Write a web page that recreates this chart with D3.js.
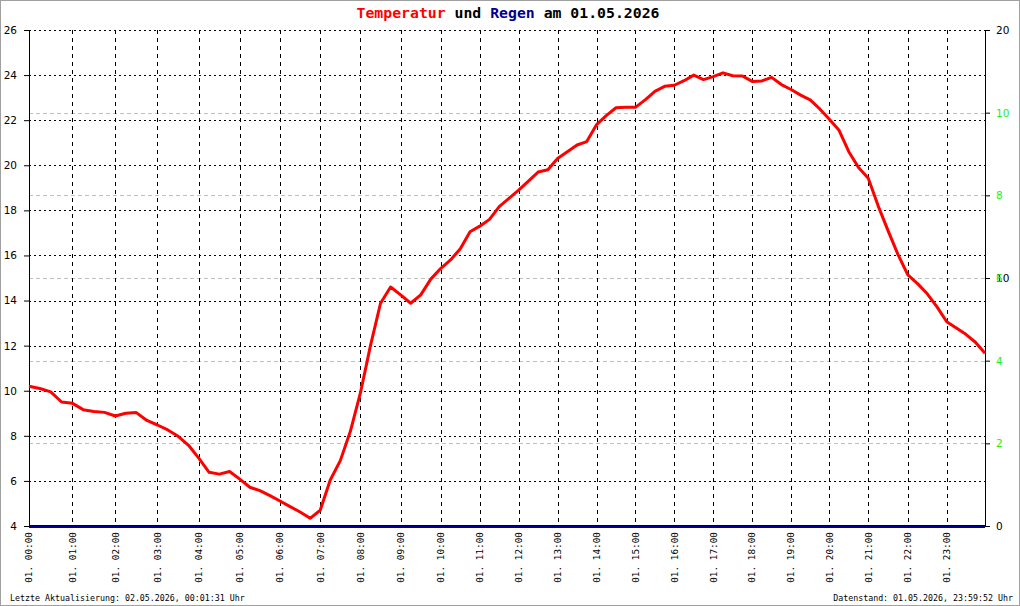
<!DOCTYPE html>
<html>
<head>
<meta charset="utf-8">
<script src="https://cdn.jsdelivr.net/npm/d3@7"></script>
<style>
body { margin: 0; background: #fff; }
svg { display: block; }
</style>
</head>
<body>
<div id="vis"></div>
<script>
// data
var dayLabel = "01.05.2026";
var hourLabels = ["01. 00:00", "01. 01:00", "01. 02:00", "01. 03:00", "01. 04:00", "01. 05:00",
                  "01. 06:00", "01. 07:00", "01. 08:00", "01. 09:00", "01. 10:00", "01. 11:00",
                  "01. 12:00", "01. 13:00", "01. 14:00", "01. 15:00", "01. 16:00", "01. 17:00",
                  "01. 18:00", "01. 19:00", "01. 20:00", "01. 21:00", "01. 22:00", "01. 23:00"];

// logger records per hour (x axis runs by record, not by clock)
var recordsPerHour = [67, 66, 65, 64, 63, 62, 62, 62, 62, 62, 60, 60,
                      60, 60, 60, 60, 60, 60, 60, 59, 60, 61, 60, 59];

// temperature every 15 minutes, 00:00 .. 24:00
var tempQuarterHours = [
  10.2, 10.1, 9.95, 9.5,
  9.44, 9.16, 9.08, 9.04,
  8.88, 9.0, 9.03, 8.68,
  8.48, 8.26, 7.98, 7.58,
  7.0, 6.38, 6.3, 6.42,
  6.08, 5.72, 5.57, 5.35,
  5.11, 4.86, 4.62, 4.34,
  4.7, 6.04, 6.9, 8.2,
  9.9, 12.0, 13.88, 14.6,
  14.25, 13.88, 14.25, 14.95,
  15.43, 15.8, 16.3, 17.05,
  17.3, 17.6, 18.17, 18.53,
  18.9, 19.3, 19.7, 19.8,
  20.3, 20.6, 20.9, 21.05,
  21.8, 22.2, 22.55, 22.57,
  22.57, 22.9, 23.28, 23.5,
  23.55, 23.75, 24.0, 23.8,
  23.93, 24.1, 23.97, 23.96,
  23.72, 23.74, 23.9, 23.58,
  23.36, 23.11, 22.9, 22.5,
  22.04, 21.55, 20.6, 19.9,
  19.42, 18.2, 17.1, 16.05,
  15.14, 14.75, 14.3, 13.72,
  13.06, 12.78, 12.5, 12.15,
  11.66];

// rain per hour boundary (mm), 00:00 .. 24:00
var rainHourly = [0, 0, 0, 0, 0, 0, 0, 0, 0, 0, 0, 0, 0,
                  0, 0, 0, 0, 0, 0, 0, 0, 0, 0, 0, 0];

var tempTicks = [4, 6, 8, 10, 12, 14, 16, 18, 20, 22, 24, 26];
var rainTicks = [0, 10, 20];
var rainTicksFine = [2, 4, 6, 8, 10];

var updatedText = "Letzte Aktualisierung: 02.05.2026, 00:01:31 Uhr";
var dataText = "Datenstand: 01.05.2026, 23:59:52 Uhr";

// svg properties
var svgWidth = 1020;
var svgHeight = 606;

var svg = d3.select('#vis').append('svg')
  .attr('width', svgWidth)
  .attr('height', svgHeight);

// outline
svg.append('rect')
  .attr('x', 0.5).attr('y', 0.5)
  .attr('width', svgWidth - 1).attr('height', svgHeight - 1)
  .attr('fill', 'white')
  .attr('stroke', '#a0a0a0');

var margin = {top: 30, right: 35, bottom: 80, left: 29},
    width = svgWidth - margin.left - margin.right,
    height = svgHeight - margin.top - margin.bottom,
    graph = svg.append('g')
      .attr('transform', 'translate(' + margin.left + ',' + margin.top + ')');

// record index where each hour starts
var hourStart = [0];
recordsPerHour.forEach(function (n, i) { hourStart.push(hourStart[i] + n); });
var totalRecords = hourStart[hourStart.length - 1];

// scales
var xScale = d3.scaleLinear().domain([0, totalRecords]).range([0, width]);
var yTemp = d3.scaleLinear().domain([4, 26]).range([height, 0]);
var yRain = d3.scaleLinear().domain([0, 20]).range([height, 0]);
var yRainFine = d3.scaleLinear().domain([0, 12]).range([height, 0]);

// light gray dashed lines for the fine rain scale
graph.selectAll('.rainGrid')
  .data(rainTicksFine)
  .enter().append('line')
  .attr('class', 'rainGrid')
  .attr('x1', 0).attr('x2', width)
  .attr('y1', function (d) { return Math.round(yRainFine(d)) + 0.5; })
  .attr('y2', function (d) { return Math.round(yRainFine(d)) + 0.5; })
  .attr('stroke', '#c0c0c0')
  .attr('stroke-dasharray', '4,3');

// dotted horizontal grid at temperature ticks
graph.selectAll('.hGrid')
  .data(tempTicks.slice(1))
  .enter().append('line')
  .attr('class', 'hGrid')
  .attr('x1', 0).attr('x2', width)
  .attr('y1', function (d) { return Math.round(yTemp(d)) + 0.5; })
  .attr('y2', function (d) { return Math.round(yTemp(d)) + 0.5; })
  .attr('stroke', 'black')
  .attr('stroke-dasharray', '2,3');

// dashed vertical grid at each hour
graph.selectAll('.vGrid')
  .data(hourStart.slice(1, 24))
  .enter().append('line')
  .attr('class', 'vGrid')
  .attr('x1', function (d) { return Math.round(xScale(d)) + 0.5; })
  .attr('x2', function (d) { return Math.round(xScale(d)) + 0.5; })
  .attr('y1', 0).attr('y2', height)
  .attr('stroke', 'black')
  .attr('stroke-dasharray', '4,4');

// left axis (temperature)
var leftAxis = graph.append('g')
  .attr('class', 'axis')
  .call(d3.axisLeft(yTemp).tickValues(tempTicks).tickSize(5).tickSizeOuter(0).tickPadding(7));

// right axis (rain), black coarse labels
var rightAxis = graph.append('g')
  .attr('class', 'axis')
  .attr('transform', 'translate(' + width + ',0)')
  .call(d3.axisRight(yRain).tickValues(rainTicks).tickSize(5).tickSizeOuter(0).tickPadding(6));

// right axis, green fine labels
var rightAxisFine = graph.append('g')
  .attr('class', 'axis fine')
  .attr('transform', 'translate(' + width + ',0)')
  .call(d3.axisRight(yRainFine).tickValues(rainTicksFine).tickSize(5).tickSizeOuter(0).tickPadding(6));
rightAxisFine.select('.domain').remove();

graph.selectAll('.axis text')
  .attr('font-family', 'DejaVu Sans, sans-serif')
  .attr('font-size', '10.5px')
  .attr('fill', 'black');
rightAxisFine.selectAll('text').attr('fill', '#22ee22');
graph.selectAll('.axis path, .axis line').attr('stroke', 'black');

// bottom axis line
graph.append('line')
  .attr('x1', 0).attr('x2', width)
  .attr('y1', height - 0.5).attr('y2', height - 0.5)
  .attr('stroke', 'black');

// rain line (all zero)
var rainLine = d3.line()
  .x(function (d, i) { return xScale(hourStart[i]); })
  .y(function (d) { return yRain(d) + 1; });

graph.append('path')
  .datum(rainHourly)
  .attr('fill', 'none')
  .attr('stroke', '#000090')
  .attr('stroke-width', 2)
  .attr('d', rainLine);

// temperature line
var tempLine = d3.line()
  .x(function (d, i) {
    var h = Math.floor(i / 4), q = i % 4;
    var idx = h < 24 ? hourStart[h] + q / 4 * recordsPerHour[h] : totalRecords;
    return xScale(idx);
  })
  .y(function (d) { return yTemp(d); });

graph.append('path')
  .datum(tempQuarterHours)
  .attr('fill', 'none')
  .attr('stroke', '#ff0000')
  .attr('stroke-width', 3)
  .attr('stroke-linejoin', 'round')
  .attr('d', tempLine);

// hour labels, rotated
graph.selectAll('.hourLabel')
  .data(hourLabels)
  .enter().append('text')
  .attr('class', 'hourLabel')
  .attr('transform', function (d, i) {
    return 'translate(' + xScale(hourStart[i]) + ',' + (height + 6) + ') rotate(-90)';
  })
  .attr('dy', '0.35em')
  .attr('text-anchor', 'end')
  .attr('font-family', 'DejaVu Sans Mono, monospace')
  .attr('font-size', '9.4px')
  .text(function (d) { return d; });

// title
var title = svg.append('text')
  .attr('x', 508)
  .attr('y', 18)
  .attr('text-anchor', 'middle')
  .attr('font-family', 'DejaVu Sans Mono, monospace')
  .attr('font-size', '14.8px')
  .attr('font-weight', 'bold');
title.append('tspan').attr('fill', '#ff0000').text('Temperatur');
title.append('tspan').attr('fill', 'black').text(' und ');
title.append('tspan').attr('fill', '#000090').text('Regen');
title.append('tspan').attr('fill', 'black').text(' am ' + dayLabel);

// footer
svg.append('text')
  .attr('x', 10).attr('y', 601)
  .attr('font-family', 'DejaVu Sans Mono, monospace')
  .attr('font-size', '8.3px')
  .text(updatedText);

svg.append('text')
  .attr('x', 1013).attr('y', 601)
  .attr('text-anchor', 'end')
  .attr('font-family', 'DejaVu Sans Mono, monospace')
  .attr('font-size', '8.3px')
  .text(dataText);
</script>
</body>
</html>
